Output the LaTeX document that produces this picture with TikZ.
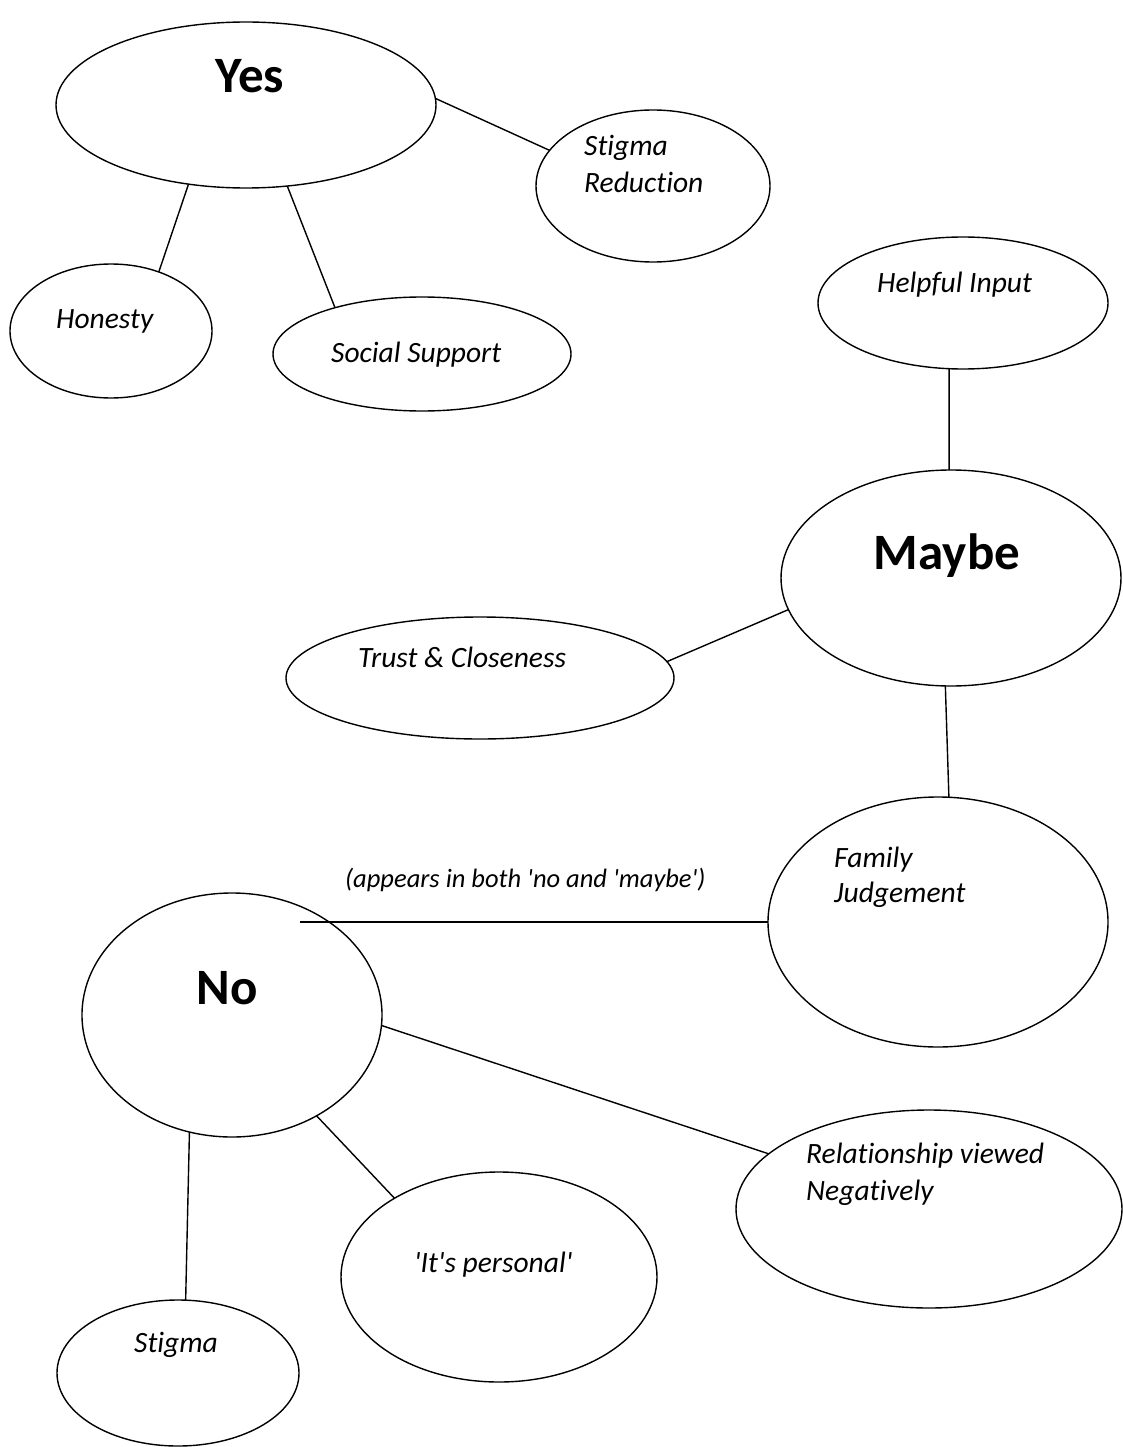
\documentclass[tikz,border=0pt]{standalone}
\usepackage{fontspec}
\setmainfont{Carlito}[Ligatures={TeXOff,CommonOff}]
\usetikzlibrary{shapes.geometric}
\begin{document}
\begin{tikzpicture}[x=1pt,y=-1pt,
  oval/.style={draw,ellipse,line width=1.4pt,inner sep=0pt,outer sep=0pt},
  link/.style={line width=1.4pt},
  big/.style={font=\fontsize{51}{60}\selectfont\bfseries,inner sep=0pt,anchor=base},
  lab/.style={font=\fontsize{29.5}{34}\selectfont\itshape,inner sep=0pt,anchor=base west}]
\useasboundingbox (0,0) rectangle (1122,1447);
% ellipses
\node[oval,minimum width=380pt,minimum height=166pt] (yes) at (246,105) {};
\node[oval,minimum width=234pt,minimum height=152pt] (sr) at (653,186) {};
\node[oval,minimum width=202pt,minimum height=134pt] (hon) at (111,331) {};
\node[oval,minimum width=298pt,minimum height=114pt] (soc) at (422,354) {};
\node[oval,minimum width=290pt,minimum height=132pt] (help) at (963,303) {};
\node[oval,minimum width=340pt,minimum height=216pt] (maybe) at (951,578) {};
\node[oval,minimum width=388pt,minimum height=122pt] (trust) at (480,678) {};
\node[oval,minimum width=340pt,minimum height=250pt] (fam) at (938,922) {};
\node[oval,minimum width=300pt,minimum height=244pt] (no) at (232,1015) {};
\node[oval,minimum width=386pt,minimum height=198pt] (rel) at (929,1209) {};
\node[oval,minimum width=316pt,minimum height=210pt] (pers) at (499,1277) {};
\node[oval,minimum width=242pt,minimum height=146pt] (stig) at (178,1373) {};
% texts
\node[big] (tyes) at (250,93) {Yes};
\node[big] (tmaybe) at (947,569) {Maybe};
\node[big] (tno) at (227,1004) {No};
\node[lab] (tsr1) at (584,156) {Stigma};
\node[lab] (tsr2) at (584,193) {Reduction};
\node[lab] (thon) at (56,328) {Honesty};
\node[lab] (tsoc) at (331,362) {Social Support};
\node[lab] (thelp) at (877,292) {Helpful Input};
\node[lab] (ttrust) at (358,667) {Trust \& Closeness};
\node[lab] (tfam1) at (834,867) {Family};
\node[lab] (tfam2) at (834,902) {Judgement};
\node[lab,font=\fontsize{26.5}{30}\selectfont\itshape] (tboth) at (345,887) {(appears in both 'no and 'maybe')};
\node[lab] (trel1) at (806,1163) {Relationship viewed};
\node[lab] (trel2) at (806,1200) {Negatively};
\node[lab] (tpers) at (414,1272) {'It's personal'};
\node[lab] (tstig) at (134,1352) {Stigma};
% connectors
\draw[link] (yes.2) -- (sr.161);
\draw[link] (yes.234) -- (hon.51);
\draw[link] (yes.297) -- (soc.152);
\draw[link] (help.258) -- (maybe.91);
\draw[link] (maybe.191) -- (trust.5);
\draw[link] (maybe.267) -- (fam.85);
\draw[link] (no.58 |- fam.180) -- (fam.180);
\draw[link] (no.356) -- (rel.161);
\draw[link] (no.310) -- (pers.143);
\draw[link] (no.250) -- (stig.84);
\end{tikzpicture}
\end{document}
